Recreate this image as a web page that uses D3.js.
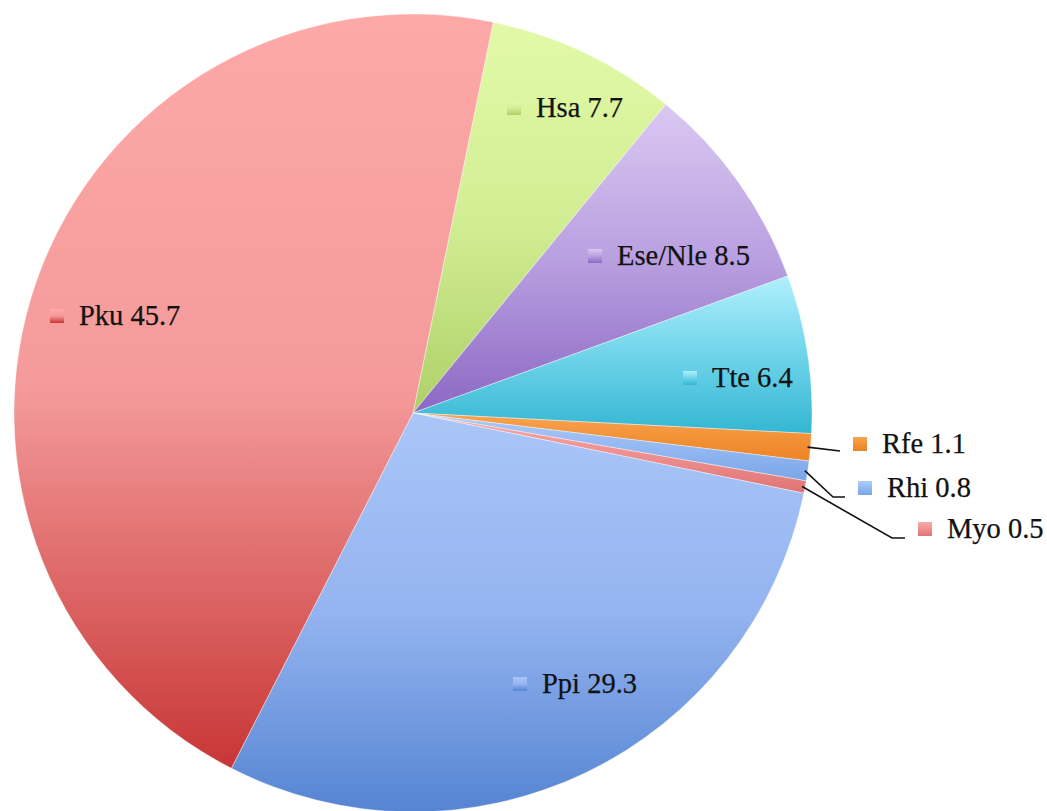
<!DOCTYPE html>
<html lang="en">
<head>
    <meta charset="UTF-8">
    <title>Pie</title>
    <style>
        * { margin: 0; padding: 0; }
        html, body { width: 100%; height: 100%; background: #fff; overflow: hidden; }
        #myPie text { font-family: "Liberation Serif", "DejaVu Serif", serif; font-size: 28.5px; fill: #121212; stroke: #121212; stroke-width: 0.25px; }
    </style>
</head>
<body>
<div id="myPie"></div>
<script src="https://cdn.jsdelivr.net/npm/d3@7/dist/d3.min.js"></script>
<script>
    /*数据*/
    var names = ["Hsa", "Ese/Nle", "Tte", "Rfe", "Rhi", "Myo", "Ppi", "Pku"];
    var values = [7.7, 8.5, 6.4, 1.1, 0.8, 0.5, 29.3, 45.7];

    /*渐变颜色 上 -> 中 -> 下*/
    var topColors = ["#e2faa8", "#dac8f2", "#b0f0fc", "#f9a452", "#aecbf9", "#f8aaaa", "#aac6f8", "#fda9a8"];
    var midColors = ["#d2ee94", "#b9a0e0", "#6fd4ea", "#f29238", "#94b8f2", "#ee9090", "#94b4f0", "#f49a9a"];
    var botColors = ["#aed068", "#8c68c4", "#34b6d2", "#ec8424", "#7aa6e8", "#e07474", "#5584d2", "#c83636"];

    /*标签位置 (方块 x, 文字基线 y)*/
    var labelAt = [[507, 117], [588, 265], [683, 387], [853, 453], [858, 497], [918, 538], [513, 693], [50, 325]];
    /*引导线折点*/
    var leaderBend = [null, null, null, [840, 451], [833, 497], [892, 538], null, null];
    var leaderEnd = [null, null, null, [840, 451], [845, 497], [905, 538], null, null];

    var width = 1047, height = 811;
    var cx = 413, cy = 413, radius = 399;
    var startDeg = 11.6;

    var svg = d3.select("#myPie").append("svg")
        .attr("width", width)
        .attr("height", height);

    var defs = svg.append("defs");
    names.forEach(function (n, i) {
        var g = defs.append("linearGradient")
            .attr("id", "grad" + i)
            .attr("x1", 0).attr("y1", 0)
            .attr("x2", 0).attr("y2", 1);
        g.append("stop").attr("offset", "0%").attr("stop-color", topColors[i]);
        g.append("stop").attr("offset", "50%").attr("stop-color", midColors[i]);
        g.append("stop").attr("offset", "100%").attr("stop-color", botColors[i]);
    });

    var dataset = names.map(function (n, i) {
        return {name: n, value: values[i], idx: i};
    });

    var start = startDeg * Math.PI / 180;
    var pie = d3.pie()
        .sort(null)
        .value(function (d) { return d.value; })
        .startAngle(start)
        .endAngle(start + 2 * Math.PI);

    var arc = d3.arc().innerRadius(0).outerRadius(radius);
    var edgeArc = d3.arc().innerRadius(radius - 3).outerRadius(radius - 3);

    var arcs = pie(dataset);

    var g = svg.append("g").attr("transform", "translate(" + cx + "," + cy + ")");

    g.selectAll(".slice")
        .data(arcs)
        .enter()
        .append("path")
        .attr("class", "slice")
        .attr("d", arc)
        .attr("fill", function (d) { return "url(#grad" + d.data.idx + ")"; })
        .attr("stroke", "rgba(255,255,255,0.5)")
        .attr("stroke-width", 0.8);

    /*引导线*/
    svg.append("g").selectAll(".leader")
        .data(arcs.filter(function (d) { return leaderBend[d.data.idx]; }))
        .enter()
        .append("polyline")
        .attr("class", "leader")
        .attr("fill", "none")
        .attr("stroke", "#111")
        .attr("stroke-width", 1.6)
        .attr("points", function (d) {
            var c = edgeArc.centroid(d);
            var p0 = [cx + c[0], cy + c[1]];
            var b = leaderBend[d.data.idx], e = leaderEnd[d.data.idx];
            return [p0, b, e].map(function (p) { return p.join(","); }).join(" ");
        });

    /*标签*/
    var labels = svg.append("g").selectAll(".lab")
        .data(arcs)
        .enter()
        .append("g")
        .attr("class", "lab");

    labels.append("rect")
        .attr("x", function (d) { return labelAt[d.data.idx][0]; })
        .attr("y", function (d) { return labelAt[d.data.idx][1] - 16; })
        .attr("width", 14)
        .attr("height", 14)
        .attr("fill", function (d) { return "url(#grad" + d.data.idx + ")"; });

    labels.append("text")
        .attr("x", function (d) { return labelAt[d.data.idx][0] + 29; })
        .attr("y", function (d) { return labelAt[d.data.idx][1]; })
        .text(function (d) { return d.data.name + " " + d.data.value; });
</script>
</body>
</html>
